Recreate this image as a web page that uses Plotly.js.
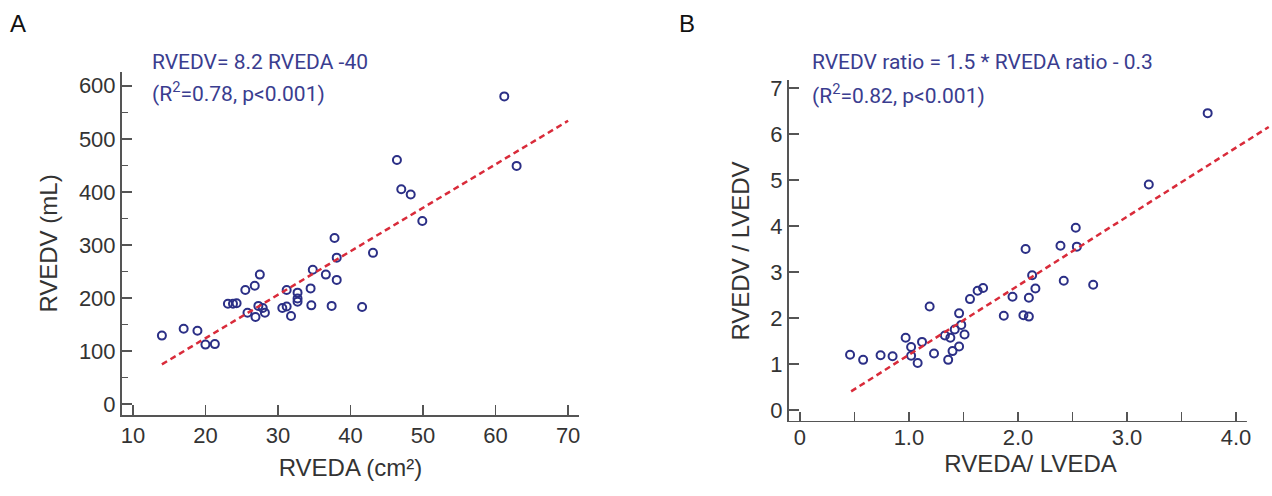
<!DOCTYPE html>
<html>
<head>
<meta charset="utf-8">
<script src="https://cdn.plot.ly/plotly-3.0.1.min.js"></script>
<style>html,body{margin:0;padding:0;background:#fff;}#chart{width:1272px;height:496px;}</style>
</head>
<body>
<div id="chart"></div>
<script>
// Panel A: RVEDA (cm²) vs RVEDV (mL)
const aRveda = [14.0,17.0,18.9,20.0,21.3,23.1,23.8,24.3,25.5,25.8,26.8,26.9,27.5,27.3,27.9,28.2,30.6,31.2,31.2,31.8,32.7,32.7,32.7,34.5,34.6,34.8,36.6,37.4,37.8,38.1,38.1,41.6,43.1,46.4,47.0,48.3,49.9,61.2,62.9];
const aRvedv = [129,142,138,112,113,189,189,190,215,172,223,164,244,185,181,172,181,184,215,166,210,199,193,218,186,253,244,185,313,276,234,183,285,460,405,395,345,580,449];
const aSlope = 8.2, aIntercept = -40;
const aFitX = [14, 70];

// Panel B: RVEDA/LVEDA vs RVEDV/LVEDV
const bAreaRatio = [0.46,0.58,0.74,0.85,0.97,1.02,1.02,1.08,1.12,1.19,1.23,1.33,1.36,1.38,1.40,1.42,1.46,1.46,1.48,1.51,1.56,1.63,1.68,1.87,1.95,2.05,2.10,2.07,2.10,2.13,2.16,2.39,2.42,2.53,2.54,2.69,3.20,3.74];
const bVolRatio = [1.20,1.09,1.19,1.17,1.57,1.37,1.18,1.02,1.48,2.25,1.23,1.62,1.09,1.57,1.28,1.75,2.10,1.38,1.85,1.64,2.41,2.59,2.65,2.05,2.46,2.06,2.03,3.50,2.44,2.93,2.64,3.57,2.81,3.96,3.55,2.72,4.90,6.45];
const bSlope = 1.5, bIntercept = -0.3;
const bFitX = [0.47, 4.3];

// Tick labels
const aXTicks = [10,20,30,40,50,60,70];
const aXTickText = ['10','20','30','40','50','60','70'];
const aYTicks = [0,100,200,300,400,500,600];
const aYTickText = ['0','100','200','300','400','500','600'];
const bXTicks = [0,1,2,3,4];
const bXTickText = ['0','1.0','2.0','3.0','4.0'];
const bXMinorTicks = [0.5,1.5,2.5,3.5];
const bYTicks = [0,1,2,3,4,5,6,7];
const bYTickText = ['0','1','2','3','4','5','6','7'];

const W = 1272, H = 496;
const axisColor = '#555555';
const tickFont = {family:'Liberation Sans, Arial, sans-serif', size:22, color:'#333333'};
const titleFont = {family:'Liberation Sans, Arial, sans-serif', size:24, color:'#333333'};
const markerStyle = {symbol:'circle-open', size:8, color:'#2b2f86', line:{width:2, color:'#2b2f86'}};
const fitLine = {color:'#d92b3a', width:2.5, dash:'6px,4px'};
const annFont = {family:'Roboto, Liberation Sans, sans-serif', size:21, color:'#3a3d8f'};

const traces = [
  {x:aRveda, y:aRvedv, xaxis:'x', yaxis:'y', mode:'markers', type:'scatter', marker:markerStyle, hoverinfo:'x+y'},
  {x:aFitX, y:aFitX.map(v=>aSlope*v+aIntercept), xaxis:'x', yaxis:'y', mode:'lines', type:'scatter', line:fitLine},
  {x:bAreaRatio, y:bVolRatio, xaxis:'x2', yaxis:'y2', mode:'markers', type:'scatter', marker:markerStyle},
  {x:bFitX, y:bFitX.map(v=>bSlope*v+bIntercept), xaxis:'x2', yaxis:'y2', mode:'lines', type:'scatter', line:fitLine}
];

const common = {showgrid:false, zeroline:false, ticks:'inside', ticklen:10, tickwidth:1.5, tickcolor:axisColor, tickfont:tickFont, fixedrange:true};

const layout = {
  width:W, height:H,
  margin:{l:0,r:0,t:0,b:0},
  paper_bgcolor:'#ffffff', plot_bgcolor:'rgba(0,0,0,0)',
  showlegend:false,
  xaxis: Object.assign({}, common, {
    domain:[122/W, 579/W], range:[8.5,71.5], anchor:'y',
    showline:true, linecolor:axisColor, linewidth:2,
    tickmode:'array', tickvals:aXTicks, ticktext:aXTickText,
    title:{text:'RVEDA (cm²)', font:titleFont, standoff:12}
  }),
  yaxis: Object.assign({}, common, {
    domain:[(H-415)/H, (H-72)/H], range:[-20.7,626], anchor:'x',
    showline:true, linecolor:axisColor, linewidth:2,
    tickmode:'array', tickvals:aYTicks, ticktext:aYTickText,
    minor:{dtick:50, tick0:0, ticks:'inside', ticklen:6, tickwidth:1.5, tickcolor:axisColor},
    title:{text:'RVEDV (mL)', font:titleFont, standoff:14}
  }),
  xaxis2: Object.assign({}, common, {
    domain:[789/W, 1], range:[-0.1,4.33], anchor:'y2',
    showline:false,
    tickmode:'array', tickvals:bXTicks, ticktext:bXTickText,
    minor:{tickvals:bXMinorTicks, ticks:'inside', ticklen:10, tickwidth:1.5, tickcolor:axisColor},
    title:{text:'RVEDA/ LVEDA', font:titleFont, standoff:6}
  }),
  yaxis2: Object.assign({}, common, {
    domain:[(H-422)/H, (H-80)/H], range:[-0.26,7.17], anchor:'x2',
    showline:true, linecolor:axisColor, linewidth:2,
    tickmode:'array', tickvals:bYTicks, ticktext:bYTickText,
    title:{text:'RVEDV / LVEDV', font:titleFont, standoff:14}
  }),
  shapes:[
    {type:'line', xref:'x2', yref:'y2', x0:-0.1, x1:4.1, y0:-0.26, y1:-0.26, line:{color:axisColor, width:2}}
  ],
  annotations:[
    {xref:'paper', yref:'paper', x:18/W, y:1-24/H, xanchor:'center', yanchor:'middle', showarrow:false, text:'A', font:{family:'Liberation Sans, Arial, sans-serif', size:24, color:'#111'}},
    {xref:'paper', yref:'paper', x:687/W, y:1-24/H, xanchor:'center', yanchor:'middle', showarrow:false, text:'B', font:{family:'Liberation Sans, Arial, sans-serif', size:24, color:'#111'}},
    {xref:'paper', yref:'paper', x:150/W, y:1-62/H, xanchor:'left', yanchor:'middle', showarrow:false, text:'RVEDV= 8.2 RVEDA -40', font:annFont},
    {xref:'paper', yref:'paper', x:150/W, y:1-92/H, xanchor:'left', yanchor:'middle', showarrow:false, text:'(R<sup>2</sup>=0.78, p<0.001)', font:annFont},
    {xref:'paper', yref:'paper', x:810/W, y:1-62/H, xanchor:'left', yanchor:'middle', showarrow:false, text:'RVEDV ratio = 1.5 * RVEDA ratio - 0.3', font:annFont},
    {xref:'paper', yref:'paper', x:810/W, y:1-94/H, xanchor:'left', yanchor:'middle', showarrow:false, text:'(R<sup>2</sup>=0.82, p<0.001)', font:annFont}
  ]
};

Plotly.newPlot('chart', traces, layout, {staticPlot:true, displayModeBar:false});
</script>
</body>
</html>
